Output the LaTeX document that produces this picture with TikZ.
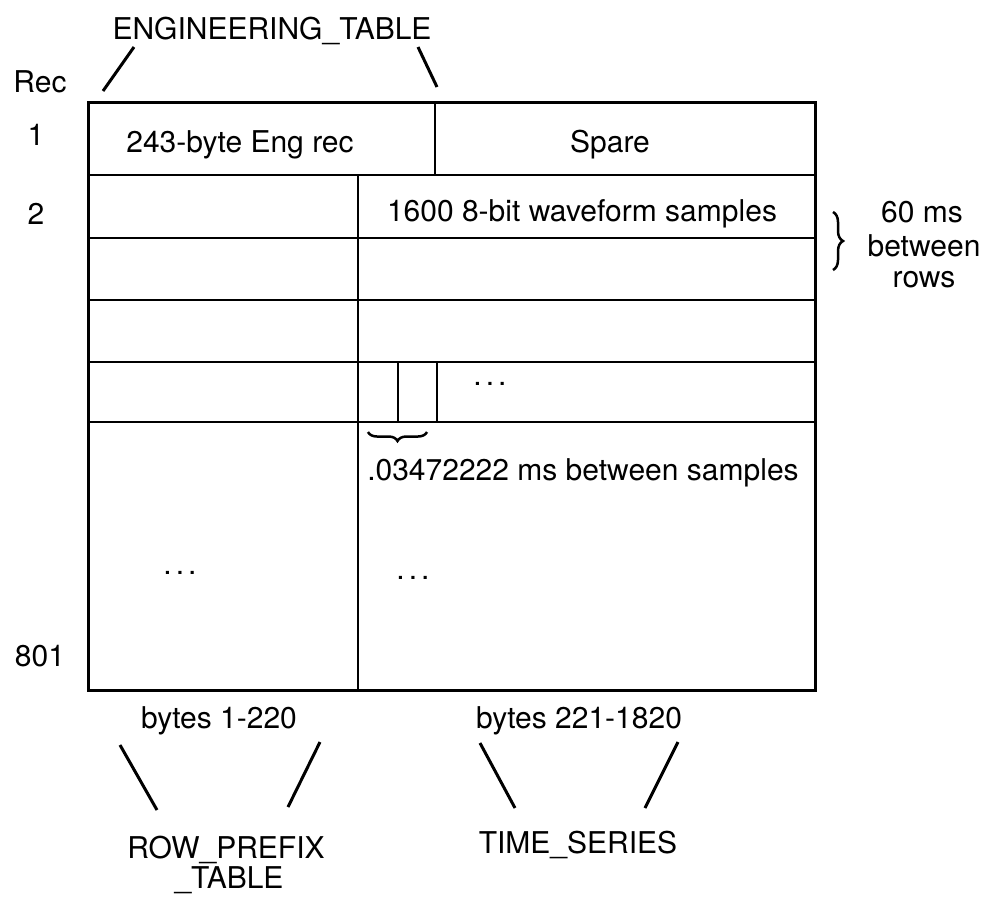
\documentclass[tikz,border=0pt]{standalone}
\usepackage{fontspec}
\setmainfont{TeX Gyre Heros}
\usetikzlibrary{decorations.pathreplacing}
\begin{document}
\begin{tikzpicture}[x=1pt,y=-1pt,
  txt/.style={anchor=base,inner sep=0pt,font=\fontsize{30}{36}\selectfont},
  outer/.style={line width=3pt},
  grid/.style={line width=2pt},
  slant/.style={line width=3pt},
  brc/.style={decorate,decoration={brace,amplitude=#1},line width=2.5pt}]
\useasboundingbox (0,0) rectangle (988,898);
% table frame
\coordinate (TL) at (88,102);
\coordinate (BR) at (815,690);
\draw[grid] (88,175) -- (815,175);
\draw[grid] (88,238) -- (815,238);
\draw[grid] (88,300) -- (815,300);
\draw[grid] (88,362) -- (815,362);
\draw[grid] (88,422) -- (815,422);
\draw[grid] (435,102) -- (435,175);
\draw[grid] (358,175) -- (358,690);
\draw[grid] (398,362) -- (398,422);
\draw[grid] (437,362) -- (437,422);
\draw[outer] (TL) rectangle (BR);
% texts
\node[txt] (eng) at (272,39) {ENGINEERING\_TABLE};
\node[txt] (rec) at (40,92) {Rec};
\node[txt] (r1) at (36,145) {1};
\node[txt] (r2) at (36,224) {2};
\node[txt] (r801) at (40,666) {801};
\node[txt] (engrec) at (240,152) {243-byte Eng rec};
\node[txt] (spare) at (610,152) {Spare};
\node[txt] (wave) at (582,221) {1600 8-bit waveform samples};
\node[txt] (d1) at (490,385) {.\kern4pt.\kern4pt.};
\node[txt] (samp) at (583,480) {.03472222 ms between samples};
\node[txt] (d2) at (180,574) {.\kern4pt.\kern4pt.};
\node[txt] (d3) at (413,579) {.\kern4pt.\kern4pt.};
\node[txt] (ms60) at (922,222) {60 ms};
\node[txt] (betw) at (924,256) {between};
\node[txt] (rows) at (924,287) {rows};
\node[txt] (b1) at (219,728) {bytes 1-220};
\node[txt] (b2) at (579,728) {bytes 221-1820};
\node[txt] (rp) at (226,858) {ROW\_PREFIX};
\node[txt] (rpt) at (229,888) {\_TABLE};
\node[txt] (ts) at (578,853) {TIME\_SERIES};
% braces
\coordinate (rbA) at (833,212);
\coordinate (rbB) at (833,270);
\draw[brc=10pt] (rbA) -- (rbB);
\coordinate (sbA) at (427,432);
\coordinate (sbB) at (368,432);
\draw[brc=9pt] (sbA) -- (sbB);
% slanted connectors
\coordinate (e1a) at (134,47); \coordinate (e1b) at (103,91);
\coordinate (e2a) at (418,47); \coordinate (e2b) at (437,87);
\draw[slant] (e1a) -- (e1b);
\draw[slant] (e2a) -- (e2b);
\coordinate (p1a) at (120,745); \coordinate (p1b) at (157,810);
\coordinate (p2a) at (320,742); \coordinate (p2b) at (288,807);
\coordinate (t1a) at (480,743); \coordinate (t1b) at (515,808);
\coordinate (t2a) at (678,742); \coordinate (t2b) at (645,808);
\draw[slant] (p1a) -- (p1b);
\draw[slant] (p2a) -- (p2b);
\draw[slant] (t1a) -- (t1b);
\draw[slant] (t2a) -- (t2b);
\end{tikzpicture}
\end{document}
